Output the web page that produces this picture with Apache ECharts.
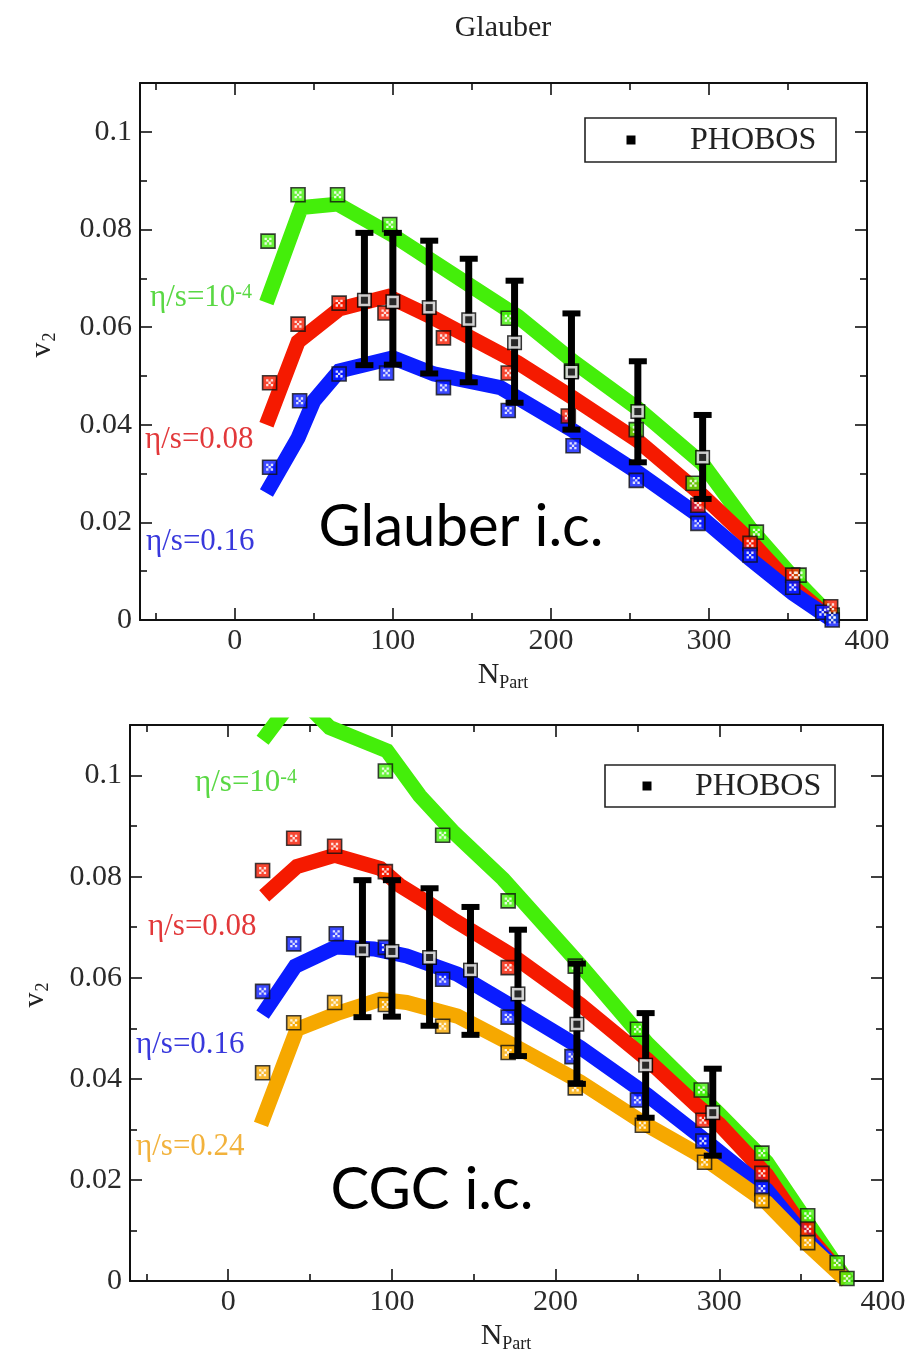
<!DOCTYPE html>
<html>
<head>
<meta charset="utf-8">
<script src="https://cdn.jsdelivr.net/npm/echarts@6/dist/echarts.min.js"></script>
<style>html,body{margin:0;padding:0;background:#fff}#c{width:922px;height:1356px}</style>
</head>
<body>
<div id="c"></div>
<script>
// ---------- tick values ----------
const X_MAJOR = [0, 100, 200, 300];
const X_LABELS = [0, 100, 200, 300, 400];
const X_MINOR = [-50, 50, 150, 250, 350];
const Y_MAJOR = [0.02, 0.04, 0.06, 0.08, 0.1];
const Y_LABELS = [0, 0.02, 0.04, 0.06, 0.08, 0.1];
const Y_MINOR = [0.01, 0.03, 0.05, 0.07, 0.09];

// ---------- PHOBOS data (same in both panels) ----------
const phobosN  = [82, 100, 123, 148, 177, 213, 255, 296];
const phobosV  = [0.0655, 0.0652, 0.064, 0.0615, 0.0568, 0.0508, 0.0427, 0.0333];
const phobosHi = [0.0793, 0.0793, 0.0777, 0.074, 0.0695, 0.0628, 0.053, 0.042];
const phobosLo = [0.0522, 0.0523, 0.0505, 0.0487, 0.0445, 0.039, 0.0323, 0.0248];

// ---------- Glauber panel: curves ----------
const glGreenLineN = [20, 42, 65, 100, 179, 214, 255, 296, 326, 353, 378];
const glGreenLineV = [0.065, 0.0845, 0.0852, 0.0788, 0.0622, 0.053, 0.0433, 0.032, 0.0188, 0.0088, 0.0005];
const glRedLineN = [20, 40, 50, 66, 97, 126, 179, 214, 255, 296, 326, 353, 378];
const glRedLineV = [0.040, 0.057, 0.0596, 0.0637, 0.0663, 0.0618, 0.0527, 0.0455, 0.0367, 0.0255, 0.0163, 0.0068, 0];
const glBlueLineN = [20, 40, 50, 66, 100, 126, 168, 214, 255, 296, 326, 353, 378];
const glBlueLineV = [0.026, 0.0373, 0.0449, 0.051, 0.0537, 0.0504, 0.0476, 0.0388, 0.0302, 0.0208, 0.0125, 0.0055, 0];
// Glauber panel: squares
const glGreenPtN = [21, 40, 65, 98, 173, 213, 254, 290, 330, 357, 378];
const glGreenPtV = [0.0776, 0.0871, 0.0871, 0.081, 0.0618, 0.051, 0.039, 0.028, 0.018, 0.0092, 0.001];
const glRedPtN = [22, 40, 66, 95, 132, 173, 211, 293, 326, 353, 377];
const glRedPtV = [0.0486, 0.0606, 0.0649, 0.0629, 0.0578, 0.0506, 0.0418, 0.0235, 0.0157, 0.0092, 0.0027];
const glBluePtN = [22, 41, 66, 96, 132, 173, 214, 254, 293, 326, 353, 372, 378];
const glBluePtV = [0.0313, 0.0449, 0.0504, 0.0506, 0.0476, 0.0429, 0.0357, 0.0286, 0.0198, 0.0133, 0.0067, 0.0016, 0];

// ---------- CGC panel: curves ----------
const cgGreenLineN = [21, 42, 62, 97, 117, 137, 168, 215, 256, 300, 329, 353, 378];
const cgGreenLineV = [0.107, 0.116, 0.1095, 0.1049, 0.096, 0.089, 0.0795, 0.0625, 0.047, 0.033, 0.0235, 0.012, 0];
const cgRedLineN = [22, 42, 65, 93, 105, 123, 137, 174, 215, 256, 286, 300, 329, 353, 378];
const cgRedLineV = [0.0762, 0.082, 0.0842, 0.0816, 0.0782, 0.0746, 0.0716, 0.0643, 0.0547, 0.0438, 0.0348, 0.031, 0.021, 0.0095, 0];
const cgBlueLineN = [21, 41, 66, 89, 109, 140, 174, 215, 256, 286, 329, 353, 378];
const cgBlueLineV = [0.0527, 0.0623, 0.0661, 0.0657, 0.0643, 0.0607, 0.0542, 0.0462, 0.0368, 0.0292, 0.018, 0.0085, 0];
const cgOrangeLineN = [20, 42, 68, 93, 109, 140, 172, 215, 256, 286, 329, 353, 378];
const cgOrangeLineV = [0.031, 0.0498, 0.0531, 0.0557, 0.0551, 0.0524, 0.047, 0.0394, 0.0308, 0.0253, 0.0155, 0.0075, 0];
// CGC panel: squares
const cgGreenPtN = [96, 131, 171, 212, 250, 289, 326, 354, 372, 378];
const cgGreenPtV = [0.1009, 0.0882, 0.0752, 0.0623, 0.0498, 0.0378, 0.0253, 0.0129, 0.0036, 0.0005];
const cgRedPtN = [21, 40, 65, 96, 171, 290, 326, 354];
const cgRedPtV = [0.0812, 0.0876, 0.086, 0.081, 0.062, 0.0318, 0.0213, 0.0103];
const cgBluePtN = [21, 40, 66, 96, 131, 171, 210, 250, 290, 326];
const cgBluePtV = [0.0573, 0.0667, 0.0687, 0.066, 0.0597, 0.0522, 0.0444, 0.0358, 0.0277, 0.0183];
const cgOrangePtN = [21, 40, 65, 96, 131, 171, 212, 253, 291, 326, 354];
const cgOrangePtV = [0.0412, 0.0511, 0.0551, 0.0547, 0.0504, 0.0452, 0.0382, 0.0308, 0.0235, 0.0159, 0.0076];

// ---------- styling ----------
const SERIF = '"Liberation Serif", "DejaVu Serif", serif';
const SANS = 'Lato, "Open Sans", sans-serif';
const C_GREEN = '#44ee0a', C_RED = '#f51a00', C_BLUE = '#0a1cff', C_ORANGE = '#f6a800';
const L_GREEN = '#5ad844', L_RED = '#e2383a', L_BLUE = '#3838dc', L_ORANGE = '#f2b23c';

const zip = (a, b) => a.map((v, i) => [v, b[i]]);

const panelRects = [
  {left: 140, top: 83, width: 727, height: 537},
  {left: 130, top: 725, width: 753, height: 556}
];
// grids 0,1 = main; grids 2,3 = minor-tick overlays
const grids = panelRects.concat(panelRects).map(r => Object.assign({containLabel: false}, r));

const xAxis = [], yAxis = [];
function addAxes(g, minor) {
  const lineOn = !minor;
  const tickLen = minor ? 7 : 12;
  const xt = minor ? X_MINOR : X_MAJOR;
  const yt = minor ? Y_MINOR : Y_MAJOR;
  ['bottom', 'top'].forEach(pos => {
    xAxis.push({
      gridIndex: g, type: 'value', min: -60, max: 400, position: pos,
      axisLine: {show: lineOn, onZero: false, lineStyle: {color: '#111', width: 2}},
      axisTick: {show: true, inside: true, length: tickLen, customValues: xt, lineStyle: {color: '#111', width: 1.6}},
      axisLabel: (pos === 'bottom' && !minor) ? {show: true, customValues: X_LABELS, fontFamily: SERIF, fontSize: 30, color: '#2a2a2a', margin: 6} : {show: false},
      splitLine: {show: false}
    });
  });
  ['left', 'right'].forEach(pos => {
    yAxis.push({
      gridIndex: g, type: 'value', min: 0, max: 0.11, position: pos,
      axisLine: {show: lineOn, onZero: false, lineStyle: {color: '#111', width: 2}},
      axisTick: {show: true, inside: true, length: tickLen, customValues: yt, lineStyle: {color: '#111', width: 1.6}},
      axisLabel: (pos === 'left' && !minor) ? {show: true, customValues: Y_LABELS, fontFamily: SERIF, fontSize: 30, color: '#2a2a2a', margin: 8,
        formatter: v => String(+v.toFixed(2))} : {show: false},
      splitLine: {show: false}
    });
  });
}
addAxes(0, false); addAxes(1, false); addAxes(2, true); addAxes(3, true);
// main axes indices: grid0 -> x0,y0 ; grid1 -> x2,y2

const series = [];
function addLine(p, N, V, color) {
  series.push({type: 'line', xAxisIndex: p * 2, yAxisIndex: p * 2, data: zip(N, V), showSymbol: false,
    lineStyle: {color: color, width: 15, join: 'miter'}, z: 2, silent: true, clip: true});
}
const PATTERN = 'path://M0 0H2V2H0Z M4 0H6V2H4Z M0 4H2V6H0Z M4 4H6V6H4Z M2 2H4V4H2Z';
function addPts(p, N, V, color) {
  series.push({type: 'scatter', xAxisIndex: p * 2, yAxisIndex: p * 2, data: zip(N, V), symbol: 'rect', symbolSize: 14,
    itemStyle: {color: color, borderColor: '#111', borderWidth: 1.6}, z: 3, silent: true, clip: true});
  series.push({type: 'scatter', xAxisIndex: p * 2, yAxisIndex: p * 2, data: zip(N, V), symbol: PATTERN, symbolSize: 7,
    itemStyle: {color: '#fff', opacity: 0.85}, z: 4, silent: true, clip: true});
}
function addPhobos(p) {
  series.push({type: 'custom', xAxisIndex: p * 2, yAxisIndex: p * 2, z: 5, silent: true,
    data: phobosN.map((n, i) => [n, phobosLo[i], phobosHi[i]]),
    encode: {x: 0, y: [1, 2]},
    renderItem: (params, api) => {
      const x = api.value(0);
      const t = api.coord([x, api.value(2)]);
      const b = api.coord([x, api.value(1)]);
      const cw = 9;
      return {type: 'group', children: [
        {type: 'line', shape: {x1: t[0], y1: t[1], x2: b[0], y2: b[1]}, style: {stroke: '#000', lineWidth: 7}},
        {type: 'line', shape: {x1: t[0] - cw, y1: t[1], x2: t[0] + cw, y2: t[1]}, style: {stroke: '#000', lineWidth: 6}},
        {type: 'line', shape: {x1: b[0] - cw, y1: b[1], x2: b[0] + cw, y2: b[1]}, style: {stroke: '#000', lineWidth: 6}}
      ]};
    }
  });
  const pts = zip(phobosN, phobosV);
  series.push({type: 'scatter', xAxisIndex: p * 2, yAxisIndex: p * 2, data: pts, symbol: 'rect', symbolSize: 15,
    itemStyle: {color: '#000'}, z: 6, silent: true});
  series.push({type: 'scatter', xAxisIndex: p * 2, yAxisIndex: p * 2, data: pts, symbol: 'rect', symbolSize: 12,
    itemStyle: {color: '#fff'}, z: 7, silent: true});
  series.push({type: 'scatter', xAxisIndex: p * 2, yAxisIndex: p * 2, data: pts, symbol: 'rect', symbolSize: 7,
    itemStyle: {color: '#000'}, z: 8, silent: true});
}

// Glauber
addLine(0, glGreenLineN, glGreenLineV, C_GREEN);
addLine(0, glRedLineN, glRedLineV, C_RED);
addLine(0, glBlueLineN, glBlueLineV, C_BLUE);
addPts(0, glGreenPtN, glGreenPtV, C_GREEN);
addPts(0, glRedPtN, glRedPtV, C_RED);
addPts(0, glBluePtN, glBluePtV, C_BLUE);
addPhobos(0);
// CGC
addLine(1, cgGreenLineN, cgGreenLineV, C_GREEN);
addLine(1, cgRedLineN, cgRedLineV, C_RED);
addLine(1, cgBlueLineN, cgBlueLineV, C_BLUE);
addLine(1, cgOrangeLineN, cgOrangeLineV, C_ORANGE);
addPts(1, cgGreenPtN, cgGreenPtV, C_GREEN);
addPts(1, cgRedPtN, cgRedPtV, C_RED);
addPts(1, cgBluePtN, cgBluePtV, C_BLUE);
addPts(1, cgOrangePtN, cgOrangePtV, C_ORANGE);
addPhobos(1);

// ---------- text annotations ----------
function label(x, y, text, color, sup) {
  const rich = {
    m: {fontFamily: SERIF, fontSize: 31, fill: color, color: color, lineHeight: 30, padding: [8, 0, 0, 0], verticalAlign: 'bottom'},
    s: {fontFamily: SERIF, fontSize: 20, fill: color, color: color, lineHeight: 20, verticalAlign: 'top'}
  };
  return {type: 'text', x: x, y: y, z: 20,
    style: {text: sup ? '{m|' + text + '}{s|' + sup + '}' : '{m|' + text + '}', rich: rich, align: 'left', verticalAlign: 'middle'}};
}
function vLabel(x, y) {
  return {type: 'text', x: x, y: y, rotation: Math.PI / 2, z: 20,
    style: {text: '{m|v}{s|2}', align: 'center', verticalAlign: 'middle',
      rich: {m: {fontFamily: SERIF, fontSize: 30, fill: '#222', lineHeight: 30, verticalAlign: 'top'},
             s: {fontFamily: SERIF, fontSize: 18, fill: '#222', lineHeight: 18, padding: [14, 0, 0, 1], verticalAlign: 'top'}}}};
}
function nLabel(x, y) {
  return {type: 'text', x: x, y: y, z: 20,
    style: {text: '{m|N}{s|Part}', align: 'center', verticalAlign: 'middle',
      rich: {m: {fontFamily: SERIF, fontSize: 30, fill: '#222', lineHeight: 30, verticalAlign: 'top'},
             s: {fontFamily: SERIF, fontSize: 18, fill: '#222', lineHeight: 18, padding: [14, 0, 0, 0], verticalAlign: 'top'}}}};
}
function legend(x, y, w, h, mx, tx) {
  return [
    {type: 'rect', shape: {x: x, y: y, width: w, height: h}, style: {fill: '#fff', stroke: '#222', lineWidth: 1.6}, z: 15},
    {type: 'rect', shape: {x: mx - 4.5, y: y + h / 2 - 4.5, width: 9, height: 9}, style: {fill: '#000'}, z: 16},
    {type: 'text', x: tx, y: y + h / 2 + 1, z: 16, style: {text: 'PHOBOS', fontFamily: SERIF, fontSize: 32, fill: '#222', align: 'left', verticalAlign: 'middle'}}
  ];
}

const graphic = [
  {type: 'text', x: 503, y: 28, z: 20, style: {text: 'Glauber', fontFamily: SERIF, fontSize: 30, fill: '#222', align: 'center', verticalAlign: 'middle'}},
  label(150, 298, 'η/s=10', L_GREEN, '-4'),
  label(145, 440, 'η/s=0.08', L_RED),
  label(146, 542, 'η/s=0.16', L_BLUE),
  label(195, 783, 'η/s=10', L_GREEN, '-4'),
  label(148, 927, 'η/s=0.08', L_RED),
  label(136, 1045, 'η/s=0.16', L_BLUE),
  label(136, 1147, 'η/s=0.24', L_ORANGE),
  {type: 'text', x: 461, y: 527, z: 20, style: {text: 'Glauber i.c.', fontFamily: SANS, fontSize: 58, fill: '#000', align: 'center', verticalAlign: 'middle'}},
  {type: 'text', x: 432, y: 1190, z: 20, style: {text: 'CGC i.c.', fontFamily: SANS, fontSize: 58, fill: '#000', align: 'center', verticalAlign: 'middle'}},
  vLabel(42, 345),
  vLabel(35, 995),
  nLabel(503, 675),
  nLabel(506, 1336)
].concat(legend(585, 118, 251, 44, 631, 690)).concat(legend(605, 765, 230, 42, 647, 695));

const chart = echarts.init(document.getElementById('c'), null, {renderer: 'canvas'});
chart.setOption({
  backgroundColor: '#fff',
  animation: false,
  grid: grids,
  xAxis: xAxis,
  yAxis: yAxis,
  series: series,
  graphic: graphic
});
</script>
</body>
</html>
